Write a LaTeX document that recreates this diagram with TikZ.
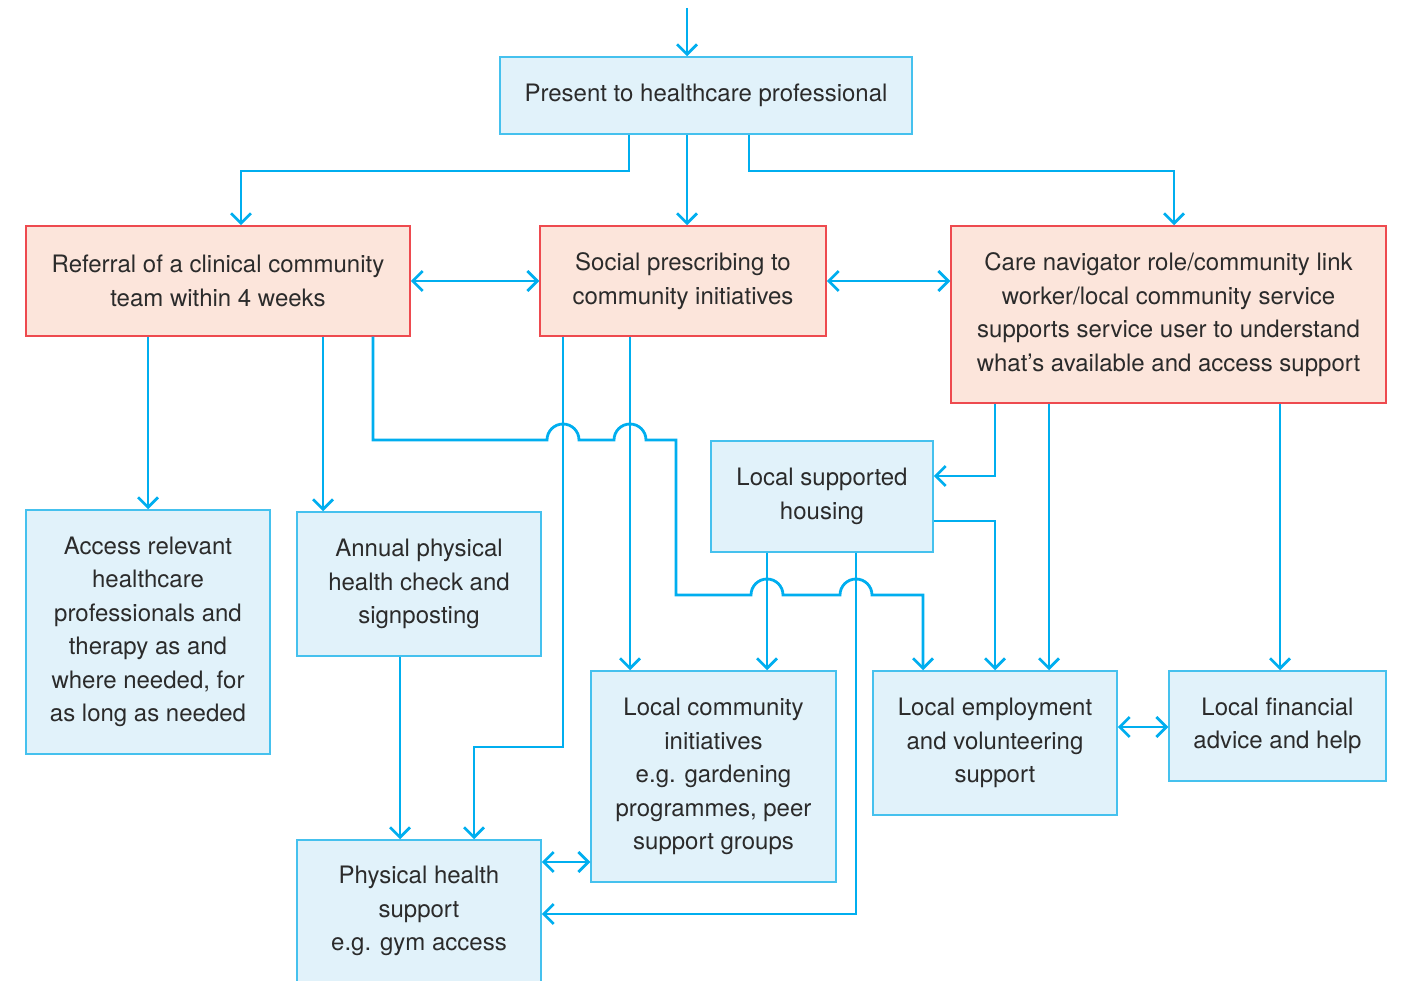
\documentclass[tikz,border=0pt]{standalone}
\usepackage{fontspec}
\setmainfont{TeX Gyre Heros}
\usetikzlibrary{arrows.meta}
\definecolor{linec}{HTML}{00AEEF}
\definecolor{bluefill}{HTML}{E1F2FA}
\definecolor{blueedge}{HTML}{45C1EE}
\definecolor{redfill}{HTML}{FCE5DB}
\definecolor{rededge}{HTML}{EE4A4F}
\definecolor{txt}{HTML}{2B2B2B}
\begin{document}
\begin{tikzpicture}[x=1pt,y=-1pt,
 box/.style={draw, line width=1.5pt, inner sep=0pt, align=center, text=txt, font=\fontsize{24}{33.5}\selectfont},
 bbox/.style={box, draw=blueedge, fill=bluefill},
 rbox/.style={box, draw=rededge, fill=redfill},
 conn/.style={draw=linec, line width=2.8pt},
 arr/.style={conn, -{Straight Barb[length=10pt,width=20pt]}},
 darr/.style={conn, {Straight Barb[length=10pt,width=20pt]}-{Straight Barb[length=10pt,width=20pt]}}
]
\useasboundingbox (0,0) rectangle (1401,981);
\clip (0,0) rectangle (1401,981);

\node[bbox, minimum width=412pt, minimum height=77pt] (present) at (706,95.5) {Present to healthcare professional};
\node[rbox, minimum width=384pt, minimum height=110pt] (referral) at (218,281) {Referral of a clinical community\\team within 4 weeks};
\node[rbox, minimum width=286pt, minimum height=110pt] (social) at (683,281) {Social prescribing to\\community initiatives};
\node[rbox, minimum width=435pt, minimum height=177pt] (care) at (1168.5,314.5) {Care navigator role/community link\\worker/local community service\\supports service user to understand\\what’s available and access support};
\node[bbox, minimum width=222pt, minimum height=111pt] (housing) at (822,496.5) {Local supported\\housing};
\node[bbox, minimum width=244pt, minimum height=244pt] (access) at (148,632) {Access relevant\\healthcare\\professionals and\\therapy as and\\where needed, for\\as long as needed};
\node[bbox, minimum width=244pt, minimum height=144pt] (annual) at (419,584) {Annual physical\\health check and\\signposting};
\node[bbox, minimum width=245pt, minimum height=211pt] (community) at (713.5,776.5) {Local community\\initiatives\\e.g. gardening\\programmes, peer\\support groups};
\node[bbox, minimum width=244pt, minimum height=144pt] (employment) at (995,743) {Local employment\\and volunteering\\support};
\node[bbox, minimum width=217pt, minimum height=110pt] (financial) at (1277.5,726) {Local financial\\advice and help};
\node[bbox, minimum width=244pt, minimum height=142pt] (physical) at (419,911) {Physical health\\support\\e.g. gym access};

\coordinate (top) at (687,8);
\draw[arr] (top) -- (present.north -| top);
\draw[arr] (present.south -| 629,0) |- (241,171) -- (referral.north -| 241,0);
\draw[arr] (present.south -| 687,0) -- (social.north -| 687,0);
\draw[arr] (present.south -| 749,0) |- (1174,171) -- (care.north -| 1174,0);
\draw[darr] (referral.east) -- (social.west);
\draw[darr] (social.east) -- (care.west |- social.east);

\draw[arr] (referral.south -| 148,0) -- (access.north -| 148,0);
\draw[arr] (referral.south -| 323,0) -- (annual.north -| 323,0);
\draw[arr] (referral.south -| 373,0) -- (373,440) -- (547,440)
  arc[start angle=180,end angle=0,radius=16pt] -- (614,440)
  arc[start angle=180,end angle=0,radius=16pt] -- (676,440) -- (676,595) -- (751,595)
  arc[start angle=180,end angle=0,radius=16pt] -- (840,595)
  arc[start angle=180,end angle=0,radius=16pt] -- (923,595) -- (employment.north -| 923,0);

\draw[arr] (social.south -| 563,0) |- (474,747) -- (physical.north -| 474,0);
\draw[arr] (social.south -| 630,0) -- (community.north -| 630,0);

\draw[arr] (care.south -| 995,0) |- (housing.east |- 0,476);
\draw[arr] (care.south -| 1049,0) -- (employment.north -| 1049,0);
\draw[arr] (care.south -| 1280,0) -- (financial.north -| 1280,0);

\draw[arr] (housing.east |- 0,521) -| (employment.north -| 995,0);
\draw[arr] (housing.south -| 767,0) -- (community.north -| 767,0);
\draw[arr] (housing.south -| 856,0) |- (physical.east |- 0,914);

\draw[arr] (annual.south -| 400,0) -- (physical.north -| 400,0);
\draw[darr] (physical.east |- 0,862) -- (community.west |- 0,862);
\draw[darr] (employment.east |- 0,727) -- (financial.west |- 0,727);
\end{tikzpicture}
\end{document}
